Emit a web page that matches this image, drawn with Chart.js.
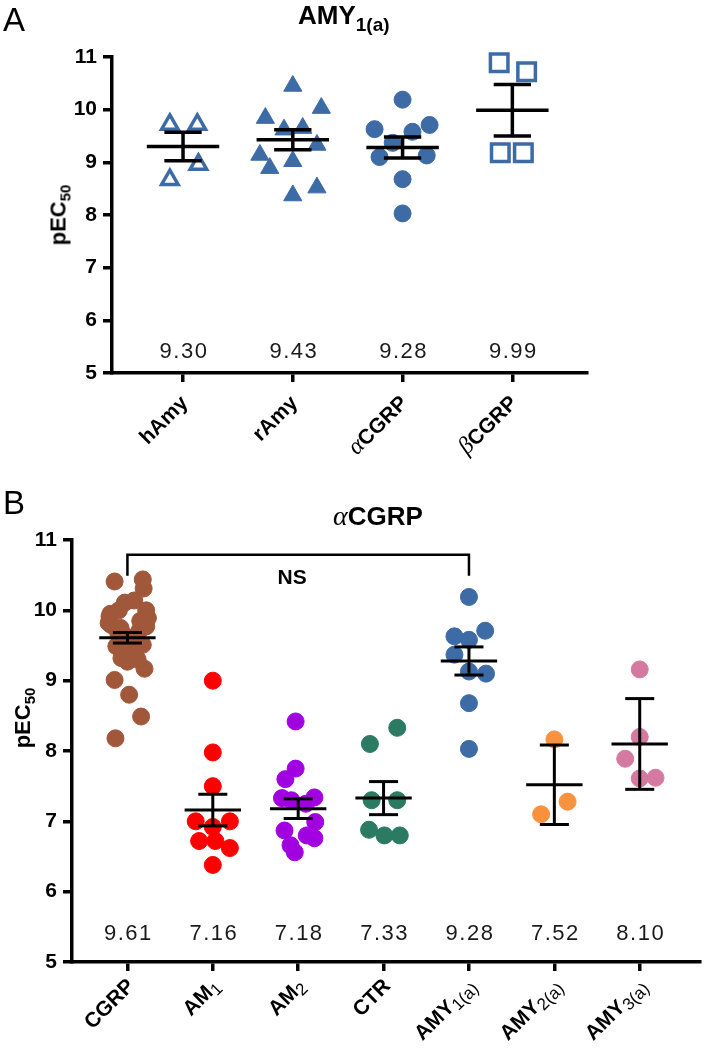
<!DOCTYPE html>
<html>
<head>
<meta charset="utf-8">
<script src="https://cdn.jsdelivr.net/npm/chart.js@4.4.1/dist/chart.umd.min.js"></script>
<style>
  body { margin: 0; background: #fff; }
  #wrap { position: relative; width: 709px; height: 1056px; font-family: 'Liberation Sans', Arial, sans-serif; color: #000; }
  canvas { position: absolute; left: 0; }
  .txt { position: absolute; line-height: 1; white-space: nowrap; }
  .letter { font-size: 33px; }
  .title { font-size: 26px; font-weight: bold; }
  .title sub { font-size: 19px; vertical-align: -7px; }
  .greek { font-family: 'Liberation Serif', serif; font-style: italic; font-weight: normal; font-size: 28px; }
  .ytitle { font-size: 22px; font-weight: bold; transform: translate(-50%, -50%) rotate(-90deg); }
  .ytitle sub { font-size: 15px; vertical-align: -5px; }
</style>
</head>
<body>
<div id="wrap">
  <canvas id="chartA" width="709" height="520" style="top:0"></canvas>
  <canvas id="chartB" width="709" height="536" style="top:520px"></canvas>
  <div class="txt letter" style="left:3px; top:3px">A</div>
  <div class="txt title" style="left:298px; top:2px">AMY<sub>1(a)</sub></div>
  <div class="txt ytitle" style="left:60px; top:215px">pEC<sub>50</sub></div>
  <div class="txt letter" style="left:3px; top:486px">B</div>
  <div class="txt title" style="left:333px; top:502px"><span class="greek">α</span>CGRP</div>
  <div class="txt ytitle" style="left:24px; top:718px">pEC<sub>50</sub></div>
</div>
<script>
// ---- panel A: AMY1(a) ----
const aLabels = ['hAmy', 'rAmy', 'αCGRP', 'βCGRP'];
const aMeans = [9.30, 9.43, 9.28, 9.99];
const aSem = [0.27, 0.19, 0.20, 0.49];

const hAmyVals = [9.72, 9.72, 8.67, 8.96];
const hAmyOff = [-0.12, 0.13, -0.12, 0.14];
const rAmyVals = [10.45, 10.03, 9.84, 9.62, 9.65, 9.33, 9.14, 9.02, 8.89, 8.52, 8.37];
const rAmyOff = [0, 0.26, -0.25, -0.08, 0.09, 0.22, -0.30, 0, -0.21, 0.22, 0];
const amy1Vals = [10.19, 9.63, 9.71, 9.58, 9.37, 9.10, 9.13, 8.68, 8.03];
const aCgrpOff = [0, -0.255, 0.246, 0.09, -0.09, -0.21, 0.22, 0, 0];
const bCgrpVals = [10.89, 10.72, 9.18, 9.18];
const bCgrpOff = [-0.12, 0.13, -0.11, 0.10];

// ---- panel B: aCGRP ----
const bLabels = ['CGRP', 'AM_1', 'AM_2', 'CTR', 'AMY_1(a)', 'AMY_2(a)', 'AMY_3(a)'];
const bMeans = [9.61, 7.16, 7.18, 7.33, 9.28, 7.52, 8.10];
const bSem = [0.075, 0.225, 0.14, 0.235, 0.20, 0.565, 0.645];

const cgrpVals = [10.41, 10.44, 10.31, 10.11, 10.14, 9.91, 9.89, 9.79, 9.77, 9.69, 9.71,
  9.56, 9.54, 9.49, 9.51, 9.39, 9.37, 9.27, 9.17, 9.01, 8.80, 8.49, 8.18,
  9.82, 9.63, 9.46, 9.32, 9.30, 9.95, 10.00, 9.85, 9.75, 10.00];
const cgrpOff = [-0.15, 0.18, 0.19, -0.03, 0.08, -0.21, 0.24, -0.19, 0.22, -0.11, 0.14,
  -0.05, 0.10, -0.13, 0.18, -0.03, 0.08, 0, 0.20, -0.15, 0.02, 0.16, -0.14,
  -0.22, -0.02, 0.04, -0.07, 0.12, -0.20, 0.22, 0.15, -0.08, -0.10];
const am1Vals = [9.00, 7.98, 7.50, 7.00, 7.00, 6.92, 6.72, 6.72, 6.62, 6.38];
const am1Off = [0, 0, 0, -0.20, 0.20, 0, -0.16, 0.03, 0.20, 0];
const am2Vals = [8.42, 7.75, 7.60, 7.33, 7.34, 7.30, 7.25, 6.99, 6.87, 6.76, 6.66, 6.56, 6.80];
const am2Off = [-0.03, -0.03, -0.15, -0.19, 0.19, -0.08, 0.09, 0.20, -0.16, 0.19, -0.09, -0.04, 0.10];
const ctrVals = [8.10, 8.33, 7.30, 7.30, 6.88, 6.80, 6.80];
const ctrOff = [-0.16, 0.16, -0.14, 0.16, -0.17, 0.01, 0.19];
const amy1Off = [0, -0.17, 0.19, 0, -0.17, 0.20, 0, 0, 0];
const amy2Vals = [8.165, 7.28, 7.10];
const amy2Off = [0, 0.155, -0.155];
const amy3Vals = [9.16, 8.20, 7.89, 7.61, 7.62];
const amy3Off = [0, 0, -0.17, 0, 0.185];

// NS bracket between CGRP and AMY1(a)
const nsFrom = 1, nsTo = 5, nsTop = 10.79, nsLegEnd = 10.49, nsLabelX = 2.93, nsLabelY = 10.46;

const BLUE = '#3d6ba6';
const FONT = "'Liberation Sans', Arial, sans-serif";

function pts(vals, offs, cat) {
  return vals.map((v, i) => ({ x: cat + offs[i], y: v }));
}

function dot(data, color, style, radius) {
  return {
    data: data, pointStyle: style || 'circle', pointRadius: radius || 8.5,
    backgroundColor: color, borderColor: color, borderWidth: 1, clip: false
  };
}

function hollow(data, color, style, radius) {
  return {
    data: data, pointStyle: style, pointRadius: radius,
    backgroundColor: 'rgba(0,0,0,0)', borderColor: color, borderWidth: 3.5, clip: false
  };
}

function line(ctx, x1, y1, x2, y2) {
  ctx.beginPath();
  ctx.moveTo(x1, y1);
  ctx.lineTo(x2, y2);
  ctx.stroke();
}

// split 'AMY_1(a)' into bold main part + plain subscript, greek letter in serif
function parseLabel(label, size, subSize) {
  const parts = [];
  let main = label, sub = '';
  if (label.indexOf('_') >= 0) {
    main = label.split('_')[0];
    sub = label.split('_')[1];
  }
  if (main[0] === 'α' || main[0] === 'β') {
    parts.push({ t: main[0], font: 'italic ' + (size + 3) + 'px "Liberation Serif", serif', dy: 0 });
    main = main.slice(1);
  }
  parts.push({ t: main, font: 'bold ' + size + 'px ' + FONT, dy: 0 });
  if (sub) parts.push({ t: sub, font: subSize + 'px ' + FONT, dy: 4 });
  return parts;
}

function statsPlugin(cfg) {
  return {
    id: 'stats',
    afterDatasetsDraw(chart) {
      const { ctx, scales: { x, y } } = chart;
      ctx.save();
      ctx.strokeStyle = '#000';
      ctx.lineWidth = cfg.lineWidth;
      cfg.means.forEach((m, i) => {
        const c = i + 1;
        const ym = y.getPixelForValue(m);
        const yt = y.getPixelForValue(m + cfg.sem[i]);
        const yb = y.getPixelForValue(m - cfg.sem[i]);
        line(ctx, x.getPixelForValue(c - 0.33), ym, x.getPixelForValue(c + 0.33), ym);
        line(ctx, x.getPixelForValue(c), yt, x.getPixelForValue(c), yb);
        line(ctx, x.getPixelForValue(c - cfg.cap), yt, x.getPixelForValue(c + cfg.cap), yt);
        line(ctx, x.getPixelForValue(c - cfg.cap), yb, x.getPixelForValue(c + cfg.cap), yb);
      });
      ctx.restore();
    },
    afterDraw(chart) {
      const { ctx, scales: { x, y } } = chart;
      ctx.save();
      // mean values above the axis
      ctx.fillStyle = '#1a1a1a';
      ctx.font = '22px ' + FONT;
      ctx.letterSpacing = '1.5px';
      ctx.textAlign = 'center';
      ctx.textBaseline = 'middle';
      cfg.means.forEach((m, i) => {
        ctx.fillText(m.toFixed(2), x.getPixelForValue(i + 1) + 1, y.getPixelForValue(5.4));
      });
      ctx.letterSpacing = '0px';
      // rotated category labels
      ctx.fillStyle = '#000';
      cfg.labels.forEach((lab, i) => {
        const parts = parseLabel(lab, cfg.labelSize, cfg.subSize);
        let total = 0;
        parts.forEach(p => { ctx.font = p.font; p.w = ctx.measureText(p.t).width; total += p.w; });
        ctx.save();
        ctx.translate(x.getPixelForValue(i + 1) + cfg.labelDx, y.bottom + cfg.labelDy);
        ctx.rotate(-Math.PI / 4);
        ctx.textAlign = 'left';
        ctx.textBaseline = 'alphabetic';
        let cx = -total;
        parts.forEach(p => { ctx.font = p.font; ctx.fillText(p.t, cx, p.dy); cx += p.w; });
        ctx.restore();
      });
      ctx.restore();
    }
  };
}

const bracketPlugin = {
  id: 'bracket',
  afterDraw(chart) {
    const { ctx, scales: { x, y } } = chart;
    const x1 = x.getPixelForValue(nsFrom), x2 = x.getPixelForValue(nsTo);
    const yt = y.getPixelForValue(nsTop), yl = y.getPixelForValue(nsLegEnd);
    ctx.save();
    ctx.strokeStyle = '#000';
    ctx.lineWidth = 2.5;
    ctx.beginPath();
    ctx.moveTo(x1, yl);
    ctx.lineTo(x1, yt);
    ctx.lineTo(x2, yt);
    ctx.lineTo(x2, yl);
    ctx.stroke();
    ctx.fillStyle = '#000';
    ctx.font = 'bold 21px ' + FONT;
    ctx.textAlign = 'center';
    ctx.textBaseline = 'middle';
    ctx.fillText('NS', x.getPixelForValue(nsLabelX), y.getPixelForValue(nsLabelY));
    ctx.restore();
  }
};

function axes(xmin, xmax, ncat, axisH, axisW, lw) {
  const grid = { drawOnChartArea: false, color: '#000', lineWidth: lw, tickLength: 9, tickColor: '#000', tickWidth: lw };
  const border = { display: true, color: '#000', width: lw };
  return {
    x: {
      type: 'linear', min: xmin, max: xmax,
      afterBuildTicks: s => { s.ticks = Array.from({ length: ncat }, (_, i) => ({ value: i + 1 })); },
      afterFit: s => { s.height = axisH; },
      ticks: { display: false },
      grid: grid, border: border
    },
    y: {
      min: 5, max: 11,
      afterFit: s => { s.width = axisW; },
      ticks: { stepSize: 1, color: '#000', padding: 6, font: { family: FONT, size: 21, weight: 'bold' } },
      grid: grid, border: border
    }
  };
}

function baseOptions(padding, scales) {
  return {
    responsive: false, animation: false, devicePixelRatio: 1,
    layout: { padding: padding },
    plugins: { legend: { display: false }, tooltip: { enabled: false } },
    events: [],
    scales: scales
  };
}

new Chart(document.getElementById('chartA'), {
  type: 'scatter',
  data: {
    datasets: [
      hollow(pts(hAmyVals, hAmyOff, 1), BLUE, 'triangle', 9.5),
      dot(pts(rAmyVals, rAmyOff, 2), BLUE, 'triangle', 10.5),
      dot(pts(amy1Vals, aCgrpOff, 3), BLUE, 'circle', 8.5),
      hollow(pts(bCgrpVals, bCgrpOff, 4), BLUE, 'rect', 12.4)
    ]
  },
  options: baseOptions({ left: 0, right: 122, top: 57, bottom: 0 }, axes(0.353, 4.68, 4, 147, 112, 3.5)),
  plugins: [statsPlugin({ means: aMeans, sem: aSem, cap: 0.17, lineWidth: 3.5,
    labels: aLabels, labelSize: 21, subSize: 16, labelDx: 6, labelDy: 31 })]
});

new Chart(document.getElementById('chartB'), {
  type: 'scatter',
  data: {
    datasets: [
      dot(pts(cgrpVals, cgrpOff, 1), '#a0573a'),
      dot(pts(am1Vals, am1Off, 2), '#ff0000'),
      dot(pts(am2Vals, am2Off, 3), '#a100e0'),
      dot(pts(ctrVals, ctrOff, 4), '#2b7a62'),
      dot(pts(amy1Vals, amy1Off, 5), BLUE),
      dot(pts(amy2Vals, amy2Off, 6), '#f8923f'),
      dot(pts(amy3Vals, amy3Off, 7), '#d47aa0')
    ]
  },
  options: baseOptions({ left: 0, right: 3, top: 20, bottom: 0 }, axes(0.351, 7.70, 7, 94, 72, 3.5)),
  plugins: [statsPlugin({ means: bMeans, sem: bSem, cap: 0.17, lineWidth: 3,
    labels: bLabels, labelSize: 21, subSize: 17, labelDx: 8, labelDy: 25 }), bracketPlugin]
});
</script>
</body>
</html>
